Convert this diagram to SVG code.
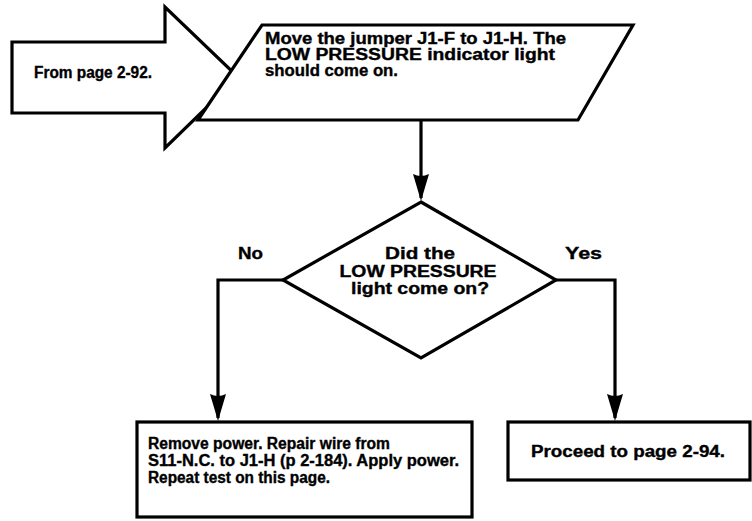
<svg xmlns="http://www.w3.org/2000/svg" width="752" height="521" viewBox="0 0 752 521">
  <style>
    .shape { fill: #fff; stroke: #000; stroke-width: 3.2; stroke-linejoin: miter; }
    .wire { fill: none; stroke: #000; stroke-width: 3.2; }
    text { font-family: "Liberation Sans", Arial, sans-serif; font-weight: bold; font-size: 16px; fill: #000; stroke: #000; stroke-width: 0.35; }
    .mid { text-anchor: middle; }
  </style>
  <defs>
    <marker id="arrow" viewBox="0 0 27 18" refX="24" refY="9" markerWidth="27" markerHeight="18" markerUnits="userSpaceOnUse" orient="auto">
      <path d="M0,1 L27,9 L0,17 Q4,9 0,1 Z" fill="#000"/>
    </marker>
  </defs>

  <rect width="752" height="521" fill="#fff"/>

  <!-- connectors -->
  <g id="connectors">
    <path class="wire" d="M421,120 V198" marker-end="url(#arrow)"/>
    <path class="wire" d="M283,280 H218 V418" marker-end="url(#arrow)"/>
    <path class="wire" d="M556,280 H615 V418" marker-end="url(#arrow)"/>
  </g>

  <!-- entry arrow -->
  <g id="from-page">
    <path class="shape" d="M12,42 H165 V7 L238,77 L165,148 V113 H12 Z"/>
    <text x="34" y="78" textLength="118" lengthAdjust="spacingAndGlyphs">From page 2-92.</text>
  </g>

  <!-- action step -->
  <g id="move-jumper">
    <path class="shape" d="M262,25 H633 L578,120 H198 Z"/>
    <text x="265" y="44" textLength="301" lengthAdjust="spacingAndGlyphs">Move the jumper J1-F to J1-H. The</text>
    <text x="265" y="60" textLength="290" lengthAdjust="spacingAndGlyphs">LOW PRESSURE indicator light</text>
    <text x="265" y="76" textLength="133" lengthAdjust="spacingAndGlyphs">should come on.</text>
  </g>

  <!-- decision -->
  <g id="decision">
    <path class="shape" d="M421,202 L556,280 L421,358 L283,280 Z"/>
    <text class="mid" x="420" y="259" textLength="70" lengthAdjust="spacingAndGlyphs">Did the</text>
    <text class="mid" x="418" y="277" textLength="157" lengthAdjust="spacingAndGlyphs">LOW PRESSURE</text>
    <text class="mid" x="420" y="294" textLength="138" lengthAdjust="spacingAndGlyphs">light come on?</text>
  </g>

  <g id="label-no"><text x="238" y="259" textLength="25" lengthAdjust="spacingAndGlyphs">No</text></g>
  <g id="label-yes"><text x="565" y="259" textLength="37" lengthAdjust="spacingAndGlyphs">Yes</text></g>

  <!-- outcome: fault -->
  <g id="repair">
    <rect class="shape" x="137" y="422" width="335" height="95"/>
    <text x="148" y="449" textLength="242" lengthAdjust="spacingAndGlyphs">Remove power. Repair wire from</text>
    <text x="148" y="466" textLength="311" lengthAdjust="spacingAndGlyphs">S11-N.C. to J1-H (p 2-184). Apply power.</text>
    <text x="148" y="483" textLength="182" lengthAdjust="spacingAndGlyphs">Repeat test on this page.</text>
  </g>

  <!-- outcome: pass -->
  <g id="proceed">
    <rect class="shape" x="508" y="422" width="242" height="58"/>
    <text class="mid" x="628" y="457" textLength="194" lengthAdjust="spacingAndGlyphs">Proceed to page 2-94.</text>
  </g>
</svg>
